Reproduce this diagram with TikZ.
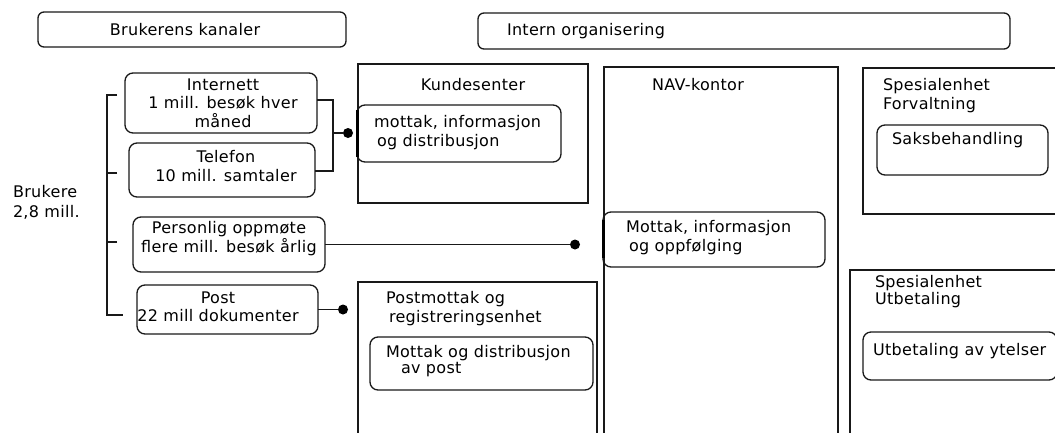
\documentclass[tikz,border=0pt]{standalone}
\usepackage{fontspec}
\setmainfont[LetterSpace=2]{DejaVu Sans}
\usetikzlibrary{calc}
\begin{document}
\begin{tikzpicture}[x=1pt,y=-1pt,
  line/.style={draw=black!90, line width=1.3pt},
  rbox/.style={line, rounded corners=8pt, inner sep=0pt, outer sep=0pt, anchor=north west},
  sbox/.style={line, inner sep=0pt, outer sep=0pt, anchor=north west},
  lbl/.style={inner sep=0pt, outer sep=0pt, font=\fontsize{16}{18.5}\selectfont, text=black},
  dot/.style={circle, fill=black, inner sep=0pt, minimum size=10pt},
  wire/.style={draw=black!90, line width=1.3pt},
  tick/.style={draw=black, line width=3pt},
]
\clip (0,0) rectangle (1055,432);
\fill[white] (0,0) rectangle (1055,432);

% column headings
\node[rbox, rounded corners=6pt, minimum width=308pt, minimum height=35pt] (hdrA) at (38,12) {};
\node[lbl] (hdrAt) at (185,30) {Brukerens kanaler};
\node[rbox, rounded corners=6pt, minimum width=532pt, minimum height=36pt] (hdrB) at (478,13) {};
\node[lbl, anchor=west] (hdrBt) at (507,31) {Intern organisering};

% users
\node[lbl, align=left, anchor=north west, font=\fontsize{16}{19.5}\selectfont] (users) at (13,185.5) {Brukere\\2,8 mill.};

% channels
\node[rbox, minimum width=192pt, minimum height=60pt] (inet) at (125,73) {};
\node[lbl, align=center, anchor=north] (inett) at (223,78.5) {Internett\\1 mill. besøk hver\\måned};
\node[rbox, minimum width=186pt, minimum height=54pt] (tel) at (129,143) {};
\node[lbl, align=center, anchor=north] (telt) at (226,150.5) {Telefon\\10 mill. samtaler};
\node[rbox, minimum width=192pt, minimum height=55pt] (pers) at (133,217) {};
\node[lbl, align=center, anchor=north] (perst) at (229,221.5) {Personlig oppmøte\\flere mill. besøk årlig};
\node[rbox, minimum width=181pt, minimum height=49pt] (post) at (137,285) {};
\node[lbl, align=center, anchor=north] (postt) at (218,291.5) {Post\\22 mill dokumenter};

% bracket from the users to the channels
\coordinate (brTop) at (117,95);
\coordinate (brTel) at (117,173);
\coordinate (brPers) at (117,242);
\coordinate (brBot) at (123,315);
\draw[wire] (brTop) -- ++(-10,0) |- (brBot);
\draw[wire] (brTel) -- ++(-10,0);
\draw[wire] (brPers) -- ++(-10,0);

% customer centre
\node[sbox, minimum width=230pt, minimum height=139pt] (kunde) at (358,64) {};
\node[lbl] (kundet) at (473,85) {Kundesenter};
\node[rbox, minimum width=204pt, minimum height=57pt] (mott) at (357,105) {};
\node[lbl, align=left, anchor=north west] (mottt) at (374,115.5) {mottak, informasjon\\\hspace{3pt}og distribusjon};
\draw[tick] ($(mott.north west)+(0,5)$) -- ($(mott.south west)+(0,-5)$);

% internet + phone join into the customer centre
\coordinate (joinK) at (333,133);
\node[dot] (dotK) at (348,133) {};
\draw[wire] (inet.east |- 0,100) -| (joinK) |- (tel.east |- 0,171);
\draw[wire] (joinK) -- (dotK);

% NAV office
\node[sbox, minimum width=234pt, minimum height=400pt] (nav) at (604,67) {};
\node[lbl] (navt) at (698,85) {NAV-kontor};
\node[rbox, minimum width=222pt, minimum height=55pt] (navin) at (603,212) {};
\node[lbl, align=left, anchor=north west] (navint) at (626,220.5) {Mottak, informasjon\\\hspace{3pt}og oppfølging};
\draw[tick] ($(navin.north west)+(0,8)$) -- ($(navin.south west)+(0,-9)$);
\node[dot] (dotP) at (pers.east -| 575,0) {};
\draw[wire] (pers.east) -- (dotP);

% mail unit
\node[sbox, minimum width=239pt, minimum height=200pt] (pm) at (358,282) {};
\node[lbl, align=left, anchor=north west] (pmt) at (386,291.5) {Postmottak og\\\hspace{3pt}registreringsenhet};
\node[rbox, minimum width=223pt, minimum height=53pt] (pmin) at (370,337) {};
\node[lbl, align=left, anchor=north west, font=\fontsize{16}{16}\selectfont] (pmint) at (386,345.5) {Mottak og distribusjon\\\hspace{15pt}av post};
\node[dot] (dotM) at (post.east -| 343,0) {};
\draw[wire] (post.east) -- (dotM);

% special unit: administration
\node[sbox, minimum width=220pt, minimum height=146pt] (forv) at (863,68) {};
\node[lbl, align=left, anchor=north west] (forvt) at (883,78.5) {Spesialenhet\\Forvaltning};
\node[rbox, minimum width=171pt, minimum height=50pt] (saks) at (877,125) {};
\node[lbl, anchor=north west] (sakst) at (892,132.5) {Saksbehandling};

% special unit: payment
\node[sbox, minimum width=230pt, minimum height=200pt] (utb) at (850,270) {};
\node[lbl, align=left, anchor=north west, font=\fontsize{16}{16.5}\selectfont] (utbt) at (875,275.5) {Spesialenhet\\Utbetaling};
\node[rbox, minimum width=194pt, minimum height=48pt] (ytel) at (863,332) {};
\node[lbl, anchor=north west] (ytelt) at (873,343.5) {Utbetaling av ytelser};
\end{tikzpicture}
\end{document}
